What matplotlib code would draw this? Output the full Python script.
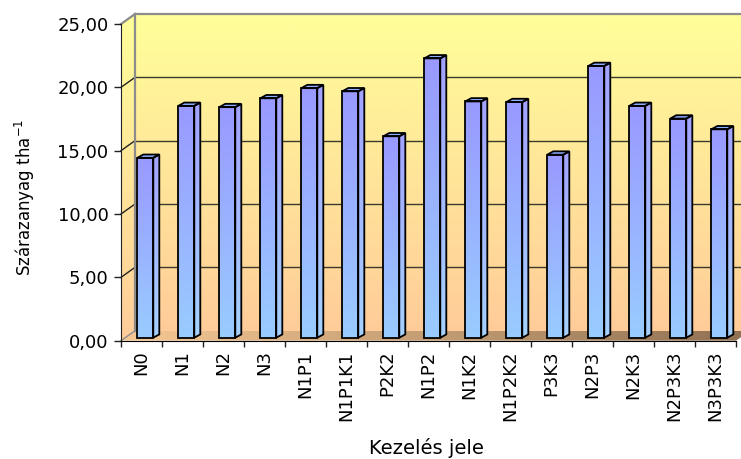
import numpy as np
import matplotlib
matplotlib.use('Agg')
import matplotlib.pyplot as plt
from matplotlib.patches import Polygon
from matplotlib.colors import LinearSegmentedColormap

categories = ['N0', 'N1', 'N2', 'N3', 'N1P1', 'N1P1K1', 'P2K2', 'N1P2',
              'N1K2', 'N1P2K2', 'P3K3', 'N2P3', 'N2K3', 'N2P3K3', 'N3P3K3']
values = [14.2, 18.3, 18.2, 18.9, 19.7, 19.45, 15.9, 22.05,
          18.65, 18.6, 14.45, 21.45, 18.3, 17.3, 16.45]
yticks = [0, 5, 10, 15, 20, 25]
ytick_labels = ['0,00', '5,00', '10,00', '15,00', '20,00', '25,00']
ylabel = 'Szárazanyag tha$^{\\mathregular{-1}}$'
xlabel = 'Kezelés jele'

FONT = 'DejaVu Sans'
plt.rcParams['font.family'] = [FONT]

W, H = 741, 459
fig = plt.figure(figsize=(W / 100, H / 100), dpi=100)
L, R, B, T = 121, 736, 340.7, 24
ax = fig.add_axes([L / W, 1 - B / H, (R - L) / W, (B - T) / H])
ax.patch.set_visible(False)
n = len(categories)
YMAX = 25

px_x = n / (R - L)
px_y = YMAX / (B - T)
DX, DY = 14 * px_x, 10 * px_y          # wall depth
SX, SY = 3.8 * px_x, 3.0 * px_y        # bar placement in depth
BW = 16 * px_x                         # bar width
BDX, BDY = 6 * px_x, 3.3 * px_y        # bar depth

vgrad = np.linspace(0, 1, 256).reshape(-1, 1)
hgrad = np.linspace(0, 1, 256).reshape(1, -1)


def grad_fill(verts, c0, c1, z, horizontal=False):
    """c0 = bottom/left colour, c1 = top/right colour"""
    poly = Polygon(verts, closed=True, transform=ax.transData)
    xs = [v[0] for v in verts]
    ys = [v[1] for v in verts]
    cmap = LinearSegmentedColormap.from_list('g', [c0, c1])
    im = ax.imshow(hgrad if horizontal else vgrad, cmap=cmap, origin='lower',
                   extent=[min(xs), max(xs), min(ys), max(ys)],
                   aspect='auto', zorder=z, interpolation='bilinear')
    im.set_clip_path(poly)
    im.set_clip_box(fig.bbox)
    return im


# back wall
grad_fill([(DX, DY), (n + 1, DY), (n + 1, YMAX + DY), (DX, YMAX + DY)],
          '#ffcc99', '#ffff99', 0.5)
# side wall
grad_fill([(0, 0), (DX, DY), (DX, YMAX + DY), (0, YMAX)],
          '#ffcc99', '#ffff99', 0.6)
# floor
grad_fill([(0, 0), (n, 0), (n + DX, DY), (DX, DY)],
          '#f6c894', '#8f7052', 0.7, horizontal=True)

# gridlines on back and side wall
for yv in yticks[1:-1]:
    ax.plot([DX, n + 1], [yv + DY, yv + DY], color='#3c3a2a', lw=1.0,
            zorder=1, clip_on=False)
    ax.plot([0, DX], [yv, yv + DY], color='#222222', lw=1.0, zorder=1,
            clip_on=False)
# wall edges
ax.plot([DX, n + 1], [YMAX + DY, YMAX + DY], color='#8c8c8c', lw=1.6,
        zorder=1.1, clip_on=False)
ax.plot([DX, DX], [DY, YMAX + DY], color='#8c8c8c', lw=1.6, zorder=1.1,
        clip_on=False)
ax.plot([0, DX], [YMAX, YMAX + DY], color='#8c8c8c', lw=1.6, zorder=1.1,
        clip_on=False)
ax.plot([0, DX], [0, DY], color='#8c8c8c', lw=1.0, zorder=1.1, clip_on=False)

# bars
for i, v in enumerate(values):
    x0 = i + 0.5 - BW / 2 + SX
    y0 = SY
    front = [(x0, y0), (x0 + BW, y0), (x0 + BW, y0 + v), (x0, y0 + v)]
    side = [(x0 + BW, y0), (x0 + BW + BDX, y0 + BDY),
            (x0 + BW + BDX, y0 + v + BDY), (x0 + BW, y0 + v)]
    top = [(x0, y0 + v), (x0 + BW, y0 + v),
           (x0 + BW + BDX, y0 + v + BDY), (x0 + BDX, y0 + v + BDY)]
    grad_fill(front, '#99ccff', '#9999ff', 2)
    grad_fill(side, '#a6d2ff', '#a3a3ff', 2)
    ax.add_patch(Polygon(top, closed=True, facecolor='#8eaeff',
                         edgecolor='black', lw=1.3, zorder=2.1,
                         clip_on=False))
    for poly in (front, side):
        ax.add_patch(Polygon(poly, closed=True, facecolor='none',
                             edgecolor='black', lw=1.3, zorder=2.1,
                             clip_on=False, joinstyle='miter'))

ax.set_xlim(0, n)
ax.set_ylim(0, YMAX)

for s in ('top', 'right'):
    ax.spines[s].set_visible(False)
ax.spines['left'].set_color('#222222')
ax.spines['bottom'].set_color('black')
ax.spines['left'].set_zorder(3)
ax.spines['bottom'].set_zorder(3)

ax.set_yticks(yticks)
ax.set_yticklabels(ytick_labels, fontsize=13)
ax.tick_params(axis='y', length=5, width=1, pad=4, color='#222222')

ax.set_xticks(np.arange(n + 1))
ax.set_xticklabels([])
ax.set_xticks(np.arange(n) + 0.5, minor=True)
ax.set_xticklabels(categories, minor=True, rotation=90, fontsize=13,
                   va='top', ha='center')
ax.tick_params(axis='x', which='major', length=4, width=1, color='#222222')
ax.tick_params(axis='x', which='minor', length=0, pad=7)

fig.text(25 / W, 1 - 197 / H, ylabel, rotation=90, ha='center', va='center',
         fontsize=12)
fig.text(426 / W, 1 - 453.5 / H, xlabel, ha='center', va='baseline',
         fontsize=14)

fig.savefig('out.png', dpi=100)
